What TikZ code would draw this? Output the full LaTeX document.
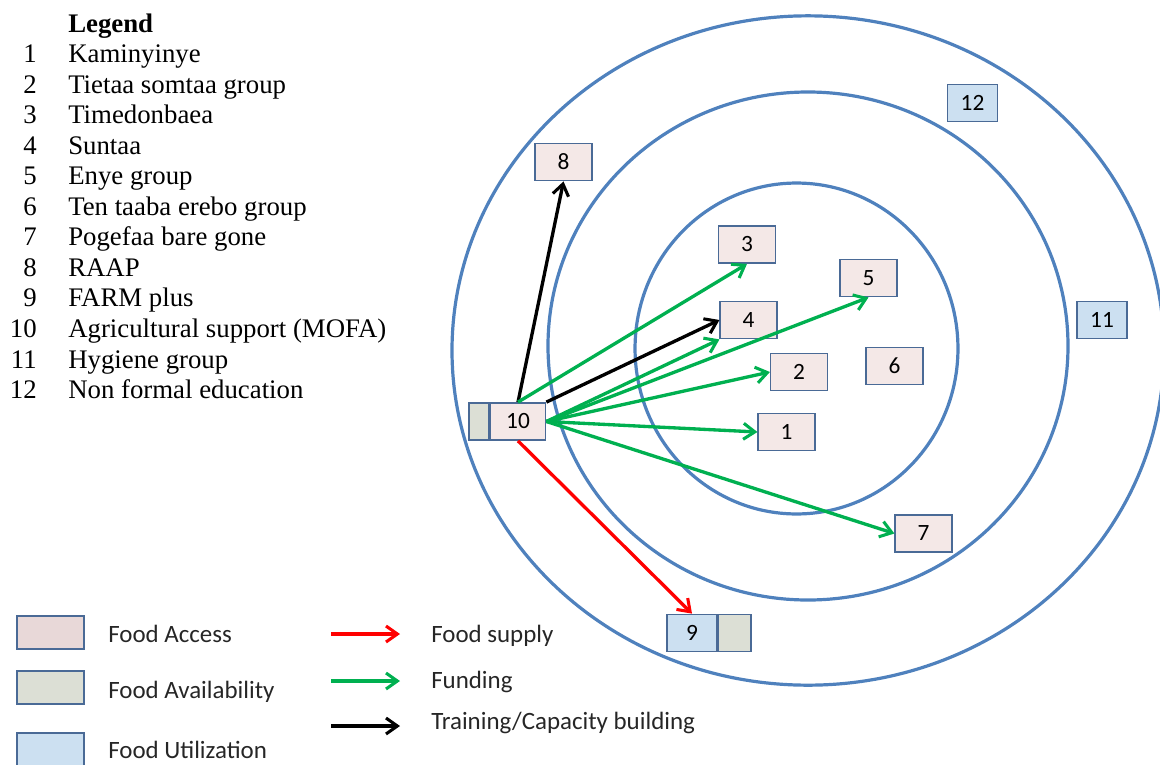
\documentclass[tikz,border=0pt]{standalone}
\usepackage{fontspec}
\setmainfont{Liberation Serif}
\newfontfamily\calfont{Carlito}
\usetikzlibrary{arrows.meta}
\definecolor{ringblue}{HTML}{4F81BD}
\definecolor{boxedge}{HTML}{4A6A96}
\definecolor{accessfill}{HTML}{F4E8E7}
\definecolor{accesslegfill}{HTML}{E8D8D8}
\definecolor{availfill}{HTML}{DCDFD5}
\definecolor{utilfill}{HTML}{CCE0F1}
\definecolor{fundgreen}{HTML}{00B050}
\definecolor{legtext}{HTML}{262626}
\begin{document}
\begin{tikzpicture}[x=0.75pt,y=-0.75pt,
  ring/.style={draw=ringblue, line width=2.4pt},
  basebox/.style={draw=boxedge, line width=1.1pt, inner sep=0pt, minimum height=28pt,
    font=\calfont\fontsize{17.5}{17.5}\selectfont},
  accbox/.style={basebox, fill=accessfill, minimum width=42.5pt},
  utilbox/.style={basebox, fill=utilfill, minimum width=37.5pt},
  availbox/.style={basebox, fill=availfill},
  legbox/.style={draw=boxedge, line width=1.3pt, inner sep=0pt, minimum width=50pt, minimum height=24.5pt},
  conn/.style={line width=2.5pt, -{Straight Barb[length=8.5pt,width=12pt,line width=2.3pt]}},
  fundarrow/.style={conn, draw=fundgreen},
  supplyarrow/.style={conn, draw=red},
  trainarrow/.style={conn, draw=black},
  legnum/.style={anchor=base east, inner sep=0pt, font=\fontsize{20.1}{20.1}\selectfont},
  legname/.style={anchor=base west, inner sep=0pt, font=\fontsize{20.1}{20.1}\selectfont},
  keytext/.style={anchor=base west, inner sep=0pt, text=legtext, font=\calfont\fontsize{18.7}{18.7}\selectfont}
]
\useasboundingbox (0,0) rectangle (1160,764);

% rings
\begin{scope}
\clip (0,0) rectangle (1160,764);
\draw[ring] (808,350.5) ellipse [x radius=267pt, y radius=251pt];
\draw[ring] (808,346) ellipse [x radius=195pt, y radius=190.5pt];
\draw[ring] (796.5,348.5) ellipse [x radius=121.1pt, y radius=124.1pt];
\end{scope}

% boxes
\node[accbox] (n3) at (747,244.5) {3};
\node[accbox] (n5) at (868.5,278) {5};
\node[accbox] (n4) at (748.5,320) {4};
\node[accbox] (n2) at (799,372) {2};
\node[accbox] (n6) at (894.5,366) {6};
\node[accbox] (n1) at (786.5,432) {1};
\node[accbox] (n8) at (563.5,162) {8};
\node[accbox] (n7) at (923.5,533.5) {7};
\node[utilbox] (n12) at (972.5,103) {12};
\node[utilbox] (n11) at (1102,320) {11};
\node[accbox, minimum width=41.5pt] (n10) at (518,421.5) {10};
\node[availbox, minimum width=15pt, anchor=east] (n10b) at (n10.west) {};
\node[utilbox] (n9) at (692,633) {9\hspace{13.5pt}};
\node[availbox, minimum width=24.5pt, anchor=west] (n9b) at (n9.east) {};

% connectors
\draw[trainarrow] (n10.north) -- (n8.south);
\draw[fundarrow] (n10.north) -- (n3.south);
\draw[trainarrow] (n10.north east) -- (n4.west);
\draw[fundarrow] (n10.east) -- (n4.south west);
\draw[fundarrow] (n10.east) -- (n5.south);
\draw[fundarrow] (n10.east) -- (n2.west);
\draw[fundarrow] (n10.east) -- (n1.west);
\draw[fundarrow] (n10.east) -- (n7.west);
\draw[supplyarrow] (n10.south) -- (n9.north);

% numbered legend
\node[anchor=base west, inner sep=0pt, font=\bfseries\fontsize{20.1}{20.1}\selectfont] (lgtitle) at (68,32) {Legend};
\foreach \k/\name in {1/Kaminyinye,2/Tietaa somtaa group,3/Timedonbaea,4/Suntaa,5/Enye group,6/Ten taaba erebo group,7/Pogefaa bare gone,8/RAAP,9/FARM plus,10/Agricultural support (MOFA),11/Hygiene group,12/Non formal education}{
  \node[legnum] (lgnum\k) at (37,{32+30.55*\k}) {\k};
  \node[legname] (lgname\k) at (68,{32+30.55*\k}) {\name};
}

% key
\node[legbox, fill=accesslegfill] (kacc) at (50.5,632.5) {};
\node[legbox, fill=availfill] (kavail) at (50.5,687.5) {};
\node[legbox, fill=utilfill] (kutil) at (50.5,749.5) {};
\node[keytext] (tacc) at (108,642) {Food Access};
\node[keytext] (tavail) at (108,698) {Food Availability};
\node[keytext] (tutil) at (108,758) {Food Utilization};

\coordinate (rs) at (331,634); \coordinate (re) at (400,634);
\coordinate (gs) at (331,681); \coordinate (ge) at (400,681);
\coordinate (bs) at (331,726); \coordinate (be) at (400,726);
\draw[supplyarrow] (rs) -- (re);
\draw[fundarrow] (gs) -- (ge);
\draw[trainarrow] (bs) -- (be);
\node[keytext] (tsupply) at (431,642) {Food supply};
\node[keytext] (tfund) at (431,688) {Funding};
\node[keytext] (ttrain) at (431,729) {Training/Capacity building};
\end{tikzpicture}
\end{document}
